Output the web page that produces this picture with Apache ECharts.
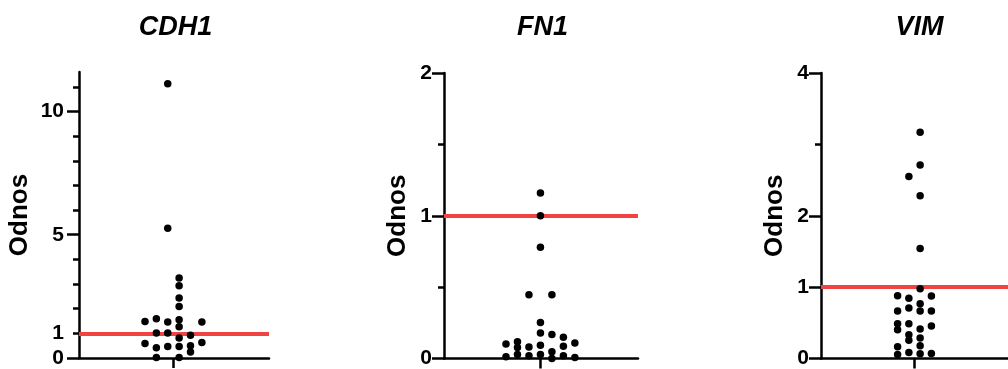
<!DOCTYPE html>
<html>
<head>
<meta charset="utf-8">
<script src="https://cdn.jsdelivr.net/npm/echarts@6/dist/echarts.min.js"></script>
<style>
  html, body { margin: 0; padding: 0; background: #fff; }
  #chart { width: 1008px; height: 369px; }
</style>
</head>
<body>
<div id="chart"></div>
<script>
// Gene names and shared y-axis title
const geneNames = ['CDH1', 'FN1', 'VIM'];
const yAxisTitle = 'Odnos';

// CDH1: ratio per sample and the swarm column each dot sits in
const cdh1Values  = [1.48, 0.59,
                     1.59, 1.01, 0.42, 0.02,
                     11.12, 5.26, 1.46, 1.01, 0.47,
                     3.24, 2.93, 2.43, 2.09, 1.55, 1.27, 0.81, 0.47, 0.02,
                     0.92, 0.50, 0.24,
                     1.46, 0.63];
const cdh1Columns = [-2.5, -2.5,
                     -1.5, -1.5, -1.5, -1.5,
                     -0.5, -0.5, -0.5, -0.5, -0.5,
                     0.5, 0.5, 0.5, 0.5, 0.5, 0.5, 0.5, 0.5, 0.5,
                     1.5, 1.5, 1.5,
                     2.5, 2.5];

// FN1
const fn1Values  = [0.102, 0.012,
                    0.118, 0.077, 0.028,
                    0.446, 0.081, 0.019,
                    1.16, 1.0, 0.78, 0.253, 0.179, 0.093, 0.028,
                    0.446, 0.169, 0.047, 0.0,
                    0.149, 0.086, 0.019,
                    0.109, 0.007];
const fn1Columns = [-3, -3,
                    -2, -2, -2,
                    -1, -1, -1,
                    0, 0, 0, 0, 0, 0, 0,
                    1, 1, 1, 1,
                    2, 2, 2,
                    3, 3];

// VIM
const vimValues  = [0.878, 0.665, 0.488, 0.404, 0.163, 0.056,
                    2.55, 0.845, 0.706, 0.488, 0.334, 0.255, 0.084,
                    3.17, 2.71, 2.28, 1.54, 0.976, 0.767, 0.665, 0.414, 0.288, 0.177, 0.065,
                    0.874, 0.665, 0.455, 0.07];
const vimColumns = [-1.5, -1.5, -1.5, -1.5, -1.5, -1.5,
                    -0.5, -0.5, -0.5, -0.5, -0.5, -0.5, -0.5,
                    0.5, 0.5, 0.5, 0.5, 0.5, 0.5, 0.5, 0.5, 0.5, 0.5, 0.5,
                    1.5, 1.5, 1.5, 1.5];

// Reference level drawn as the red line
const referenceLevel = 1;

// Y-axis scales: maximum, long ticks, short ticks, labelled values
const yMaxima      = [11.6, 2, 4];
const majorTicks   = [[0, 5, 10], [0, 1, 2], [0, 1, 2, 4]];
const minorTicks   = [[1, 2, 3, 4, 6, 7, 8, 9, 11], [0.5, 1.5], [3]];
const tickLabels   = [[0, 1, 5, 10], [0, 1, 2], [0, 1, 2, 4]];

const panelValues  = [cdh1Values, fn1Values, vimValues];
const panelColumns = [cdh1Columns, fn1Columns, vimColumns];

// Layout of the three plot areas (pixels) and the horizontal column range
const layout = [
  { left: 79,  top: 72, width: 190, height: 286, xMin: -8.3, xMax: 8.4, nameGap: 46, labelMargin: 15 },
  { left: 444, top: 73, width: 194, height: 287, xMin: -8.4, xMax: 8.5, nameGap: 33, labelMargin: 12 },
  { left: 821, top: 73, width: 193, height: 287, xMin: -8.3, xMax: 8.3, nameGap: 33, labelMargin: 12 }
];

const FONT = '"Liberation Sans", Arial, Helvetica, sans-serif';
const AXIS_W = 2.5;
const RED = '#f24343';

const grids = [], xAxes = [], yAxes = [], series = [], graphics = [];

layout.forEach((L, i) => {
  grids.push({ left: L.left, top: L.top, width: L.width, height: L.height, containLabel: false });

  xAxes.push({
    type: 'value', gridIndex: i, min: L.xMin, max: L.xMax,
    axisLine: { show: true, onZero: false, lineStyle: { color: '#000', width: AXIS_W } },
    axisTick: { show: true, customValues: [0], length: 10, inside: false,
                lineStyle: { color: '#000', width: AXIS_W } },
    axisLabel: { show: false },
    splitLine: { show: false }
  });

  // Main y-axis: line, long ticks, labels, title
  yAxes.push({
    type: 'value', gridIndex: i, min: 0, max: yMaxima[i], position: 'left',
    name: yAxisTitle, nameLocation: 'middle', nameGap: L.nameGap, nameRotate: 90,
    nameTextStyle: { fontFamily: FONT, fontWeight: 'bold', fontSize: 26, color: '#000' },
    axisLine: { show: true, onZero: false, lineStyle: { color: '#000', width: AXIS_W } },
    axisTick: { show: true, customValues: majorTicks[i], length: 12,
                lineStyle: { color: '#000', width: AXIS_W } },
    axisLabel: { show: true, customValues: tickLabels[i], margin: L.labelMargin,
                 fontFamily: FONT, fontWeight: 'bold', fontSize: 21, color: '#000' },
    splitLine: { show: false }
  });
  // Companion y-axis carrying only the short ticks
  yAxes.push({
    type: 'value', gridIndex: i, min: 0, max: yMaxima[i], position: 'left', offset: 0,
    axisLine: { show: false, onZero: false },
    axisTick: { show: true, customValues: minorTicks[i], length: 6,
                lineStyle: { color: '#000', width: AXIS_W } },
    axisLabel: { show: false },
    splitLine: { show: false }
  });

  // Red reference line at the level of 1
  series.push({
    type: 'line', xAxisIndex: i, yAxisIndex: 2 * i, data: [], z: 1, silent: true,
    markLine: {
      silent: true, symbol: 'none', animation: false,
      label: { show: false },
      lineStyle: { color: RED, width: 4, type: 'solid' },
      data: [{ yAxis: referenceLevel }]
    }
  });

  // Individual samples as a dot swarm
  series.push({
    type: 'scatter', xAxisIndex: i, yAxisIndex: 2 * i, z: 5, clip: false,
    symbol: 'circle', symbolSize: 7.5,
    itemStyle: { color: '#000', opacity: 1 },
    data: panelValues[i].map((v, k) => [panelColumns[i][k], v])
  });

  const centre = L.left + L.width * (0 - L.xMin) / (L.xMax - L.xMin);
  graphics.push({
    type: 'text', x: centre + 2, y: 28,
    style: { text: geneNames[i], fill: '#000',
             font: 'italic bold 27px ' + FONT,
             align: 'center', verticalAlign: 'middle',
             textAlign: 'center', textVerticalAlign: 'middle' }
  });
});

const chart = echarts.init(document.getElementById('chart'), null, { renderer: 'canvas' });
chart.setOption({
  animation: false,
  backgroundColor: '#fff',
  grid: grids,
  xAxis: xAxes,
  yAxis: yAxes,
  series: series,
  graphic: graphics
});
</script>
</body>
</html>
